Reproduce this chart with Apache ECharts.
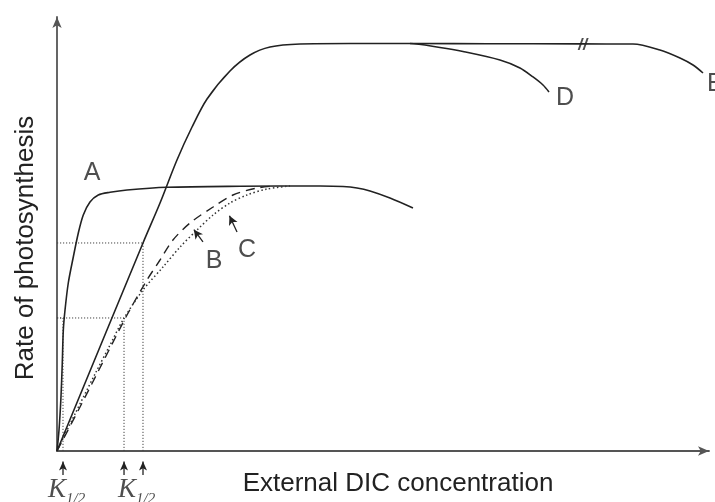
<!DOCTYPE html>
<html>
<head>
<meta charset="utf-8">
<script src="https://cdn.jsdelivr.net/npm/echarts@6/dist/echarts.min.js"></script>
<style>html,body{margin:0;padding:0;background:#fff}#c{width:715px;height:502px}</style>
</head>
<body>
<div id="c"></div>
<script>
// ---- data (arbitrary units: concentration 0-100, rate 0-100) ----
const curveA = [[0,0],[0.31,4.84],[0.61,12.44],[0.81,20.28],[0.97,27.88],[1.23,32.49],[1.73,38.71],[2.50,44.70],[3.27,50.23],[4.03,54.38],[5.06,57.37],[6.33,58.99],[8.13,59.61],[10.74,60.14],[16.87,60.76],[28.07,60.99],[40.34,61.06],[43.87,60.94],[46.01,60.60],[48.01,59.91],[51.07,58.29],[54.60,55.99]];
const curveB = [[0,0],[3.53,10.14],[7.36,21.43],[10.74,31.34],[13.80,39.40],[15.80,44.01],[17.79,48.62],[20.40,52.53],[23.93,56.22],[26.99,58.99],[30.67,60.60],[33.44,61.06]];
const curveC = [[0,0],[2.76,8.53],[5.83,17.74],[8.13,24.42],[10.12,30.18],[13.19,37.10],[16.26,42.40],[18.87,47.00],[21.47,50.92],[23.93,54.38],[26.53,57.14],[29.14,58.99],[32.21,60.37],[35.74,61.06]];
const curveD = [[0,0],[13.19,47.93],[15.80,57.14],[18.40,67.05],[20.71,74.65],[23.01,81.11],[26.53,87.56],[29.60,91.24],[32.67,93.09],[37.27,93.78],[44.94,93.89],[54.14,93.89],[58.74,92.97],[62.27,92.05],[67.94,90.09],[71.01,88.25],[73.01,86.18],[74.54,84.33],[75.46,82.72]];
const curveE = [[54.14,93.89],[66.0,93.85],[80.21,93.80],[88.34,93.78],[92.48,92.40],[95.55,90.55],[97.55,88.94],[99.08,87.10]];
const axisBreak = [80.7, 93.8];

const kHalf = [0.92, 10.28, 13.19];      // K1/2 of A, B/C, D
const halfRate = [30.65, 30.65, 47.93];  // half-max rates of A, B/C, D

const curveNames = ['A','B','C','D','E'];
const curveLabelPos = [[5.37,64.06],[24.08,43.78],[29.14,46.31],[77.91,81.34],[100.97,84.56]];
const pointerArrows = [ [[22.39,48.16],[21.00,51.00]], [[27.61,50.46],[26.45,54.20]] ]; // B, C
const kArrowBottom = -5.53, kArrowHead = -2.4;
const kLabelPos = [[-1.38,-8.99],[9.36,-8.99]];

const xTitle = 'External DIC concentration';
const yTitle = 'Rate of photosynthesis';

// ---- chart ----
const chart = echarts.init(document.getElementById('c'), null, {renderer:'canvas'});
const ink = '#222';
const solid = (name, data) => ({
  name, type:'line', data, showSymbol:false, smooth:0.3,
  lineStyle:{color:ink, width:1.6}, silent:true, z:3
});
const guides = [];
kHalf.forEach((k,i) => {
  guides.push({type:'line', data:[[k,0],[k,halfRate[i]]], showSymbol:false, silent:true,
    lineStyle:{color:'#444', width:1, type:[1.2,1.8]}});
  guides.push({type:'line', data:[[0,halfRate[i]],[k,halfRate[i]]], showSymbol:false, silent:true,
    lineStyle:{color:'#444', width:1, type:[1.2,1.8]}});
});
const kArrows = kHalf.map(k => ({
  type:'line', clip:false, silent:true, showSymbol:true, showAllSymbol:true, z:6,
  data:[{value:[k,kArrowBottom], symbol:'none'},{value:[k,kArrowHead], symbol:'arrow', symbolSize:[6,9]}],
  lineStyle:{color:ink, width:1.3}, itemStyle:{color:ink, borderWidth:0}
}));
const arrowLines = pointerArrows.map(a => [{coord:a[0]},{coord:a[1]}]);

const labelFont = 'Liberation Sans, Arial, sans-serif';
const option = {
  backgroundColor:'#fff',
  animation:false,
  grid:{left:57, right:6, top:17, bottom:51},
  xAxis:{type:'value', min:0, max:100,
    axisLine:{show:true, symbol:['none','arrow'], symbolSize:[7,11], lineStyle:{color:'#555', width:1.8}},
    axisTick:{show:false}, axisLabel:{show:false}, splitLine:{show:false},
    name:xTitle, nameLocation:'middle', nameGap:20,
    nameTextStyle:{fontFamily:labelFont, fontSize:26, color:'#222', padding:[0,0,0,30]}},
  yAxis:{type:'value', min:0, max:100,
    axisLine:{show:true, symbol:['none','arrow'], symbolSize:[7,11], lineStyle:{color:'#555', width:1.8}},
    axisTick:{show:false}, axisLabel:{show:false}, splitLine:{show:false},
    name:yTitle, nameLocation:'middle', nameGap:18,
    nameTextStyle:{fontFamily:labelFont, fontSize:26, color:'#222', padding:[0,28,0,0]}},
  series:[
    ...guides,
    solid('A', curveA),
    {name:'B', type:'line', data:curveB, showSymbol:false, smooth:0.3, silent:true,
      lineStyle:{color:ink, width:1.4, type:[9,6]}},
    {name:'C', type:'line', data:curveC, showSymbol:false, smooth:0.3, silent:true,
      lineStyle:{color:'#333', width:1.5, type:[1.5,2.5]}},
    solid('D', curveD),
    solid('E', curveE),
    {type:'scatter', data:[axisBreak], silent:true, z:5,
      symbol:'path://M0,12 L1.8,12 L5.6,0 L3.8,0 Z M4.4,12 L6.2,12 L10,0 L8.2,0 Z',
      symbolSize:[11,12], itemStyle:{color:ink}},
    ...kArrows,
    {type:'line', data:[], clip:false, silent:true,
      markLine:{silent:true, animation:false, symbol:['none','arrow'], symbolSize:[7,9],
        label:{show:false}, lineStyle:{color:ink, width:1.3, type:'solid'}, data:arrowLines}},
    {type:'scatter', clip:false, silent:true, symbolSize:0,
      data:curveNames.map((n,i)=>({name:n, value:curveLabelPos[i]})),
      label:{show:true, position:'inside', formatter:'{b}', fontFamily:labelFont, fontSize:25, color:'#222'}},
    {type:'scatter', clip:false, silent:true, symbolSize:0,
      data:kLabelPos.map(p=>({value:p})),
      label:{show:true, position:'right', distance:0,
        formatter:'{k|K}{s|1/2}',
        rich:{
          k:{fontFamily:'Liberation Serif, serif', fontStyle:'italic', fontSize:27, color:'#222'},
          s:{fontFamily:'Liberation Serif, serif', fontStyle:'italic', fontSize:15, color:'#222', padding:[18,0,0,0]}
        }}}
  ]
};
chart.setOption(option);
</script>
</body>
</html>
